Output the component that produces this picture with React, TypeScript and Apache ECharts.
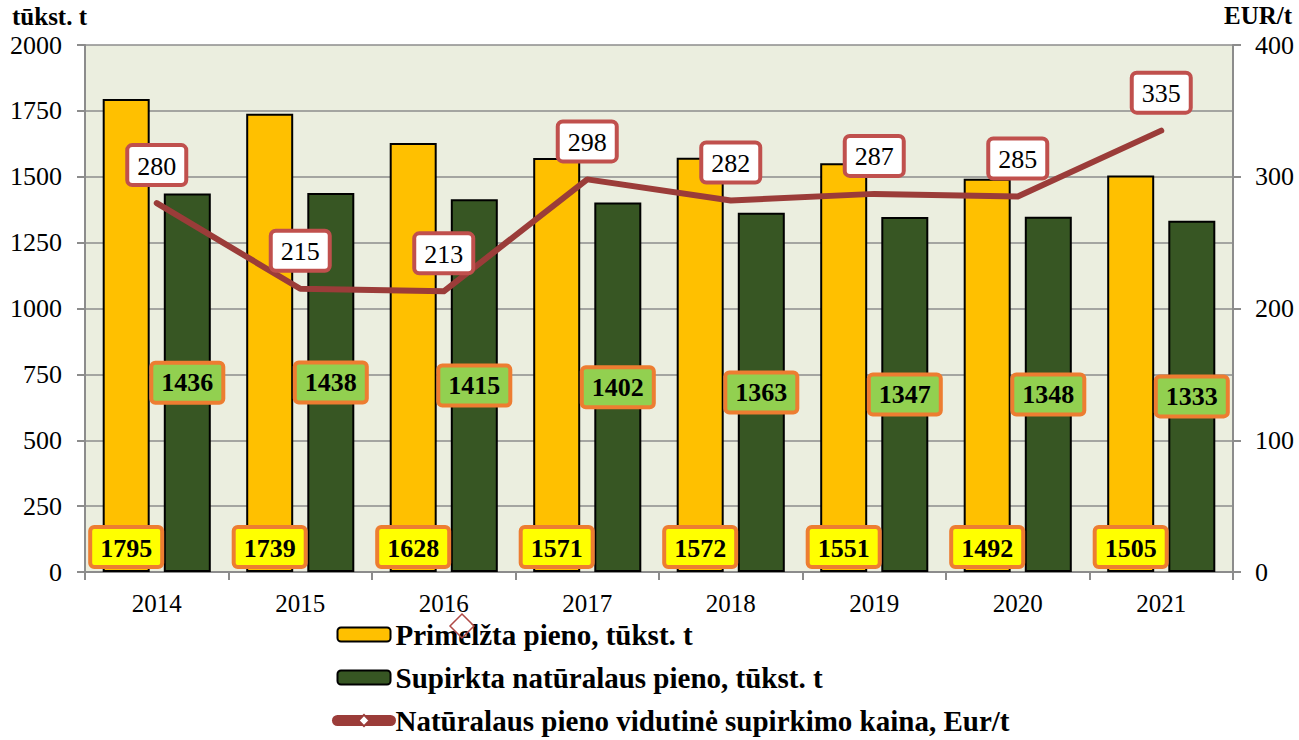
import React, { useEffect, useRef } from "react";
import * as echarts from "echarts";

const years = ["2014", "2015", "2016", "2017", "2018", "2019", "2020", "2021"];
const primelzta = [1795, 1739, 1628, 1571, 1572, 1551, 1492, 1505];
const supirkta = [1436, 1438, 1415, 1402, 1363, 1347, 1348, 1333];
const kaina = [280, 215, 213, 298, 282, 287, 285, 335];

const seriesNames = [
  "Primelžta pieno, tūkst. t",
  "Supirkta natūralaus pieno, tūkst. t",
  "Natūralaus pieno vidutinė supirkimo kaina, Eur/t",
];

const FONT = "'Liberation Serif', 'Times New Roman', serif";
const LINE_COLOR = "#9B3C39";

export default function App() {
  const ref = useRef<HTMLDivElement>(null);
  useEffect(() => {
    if (!ref.current) return;
    const chart = echarts.init(ref.current, null, { renderer: "svg" });
    const gridColor = "#8c8c8c";
    chart.setOption({
      animation: false,
      textStyle: { fontFamily: FONT, color: "#000" },
      grid: {
        left: 85,
        right: 66,
        top: 45,
        bottom: 168,
        show: true,
        backgroundColor: "#EBEEDF",
        borderWidth: 0,
      },
      legend: {
        orient: "vertical",
        left: 332,
        top: 620,
        height: 120,
        padding: 0,
        itemGap: 14,
        itemWidth: 53,
        itemHeight: 14,
        data: [
          { name: seriesNames[0] },
          { name: seriesNames[1] },
          {
            name: seriesNames[2],
            lineStyle: { color: LINE_COLOR, width: 11 },
            itemStyle: { color: "#fff", borderColor: LINE_COLOR, borderWidth: 2 },
          },
        ],
        textStyle: {
          fontFamily: FONT,
          fontSize: 29,
          fontWeight: "bold",
          color: "#000",
          lineHeight: 29,
        },
      },
      graphic: [
        {
          type: "text",
          left: 12,
          top: 4,
          style: { text: "tūkst. t", font: `bold 25px ${FONT}`, fill: "#000" },
        },
        {
          type: "text",
          left: 1224,
          top: 3,
          style: { text: "EUR/t", font: `bold 25px ${FONT}`, fill: "#000" },
        },
        {
          type: "polygon",
          shape: { points: [[462, 614], [474, 626], [462, 638], [450, 626]] },
          style: { fill: "rgba(255,255,255,0)", stroke: "#B04A46", lineWidth: 1.5 },
          z: 100,
        },
      ],
      xAxis: {
        type: "category",
        data: years,
        boundaryGap: true,
        axisLine: { lineStyle: { color: gridColor, width: 2 } },
        axisTick: { show: true, length: 8, lineStyle: { color: gridColor, width: 2 } },
        axisLabel: { fontFamily: FONT, fontSize: 25, color: "#000", margin: 19 },
      },
      yAxis: [
        {
          type: "value",
          min: 0,
          max: 2000,
          interval: 250,
          axisLine: { show: true, lineStyle: { color: gridColor, width: 2 } },
          axisTick: { show: true, length: 8, lineStyle: { color: gridColor, width: 2 } },
          splitLine: { show: true, lineStyle: { color: gridColor, width: 1.5 } },
          axisLabel: {
            fontFamily: FONT,
            fontSize: 26,
            color: "#000",
            margin: 23,
            formatter: (v: number) => String(v),
          },
        },
        {
          type: "value",
          min: 0,
          max: 400,
          interval: 100,
          position: "right",
          axisLine: { show: true, lineStyle: { color: gridColor, width: 2 } },
          axisTick: { show: true, length: 8, lineStyle: { color: gridColor, width: 2 } },
          splitLine: { show: false },
          axisLabel: {
            fontFamily: FONT,
            fontSize: 26,
            color: "#000",
            margin: 22,
            formatter: (v: number) => String(v),
          },
        },
      ],
      series: [
        {
          name: seriesNames[0],
          type: "bar",
          data: primelzta,
          barWidth: 47,
          barGap: "30%",
          itemStyle: { color: "#FFC000", borderColor: "#000", borderWidth: 2 },
          label: {
            show: true,
            position: "insideBottom",
            distance: 7,
            fontFamily: FONT,
            fontSize: 26,
            fontWeight: "bold",
            color: "#000",
            backgroundColor: "#FFFF00",
            borderColor: "#ED7D31",
            borderWidth: 4,
            borderRadius: 2,
            padding: [5, 8, 3, 8],
            lineHeight: 28,
          },
        },
        {
          name: seriesNames[1],
          type: "bar",
          data: supirkta,
          barWidth: 47,
          itemStyle: { color: "#375623", borderColor: "#000", borderWidth: 2 },
          label: {
            show: true,
            position: "inside",
            fontFamily: FONT,
            fontSize: 26,
            fontWeight: "bold",
            color: "#000",
            backgroundColor: "#92D050",
            borderColor: "#ED7D31",
            borderWidth: 4,
            borderRadius: 2,
            padding: [5, 8, 3, 8],
            lineHeight: 28,
          },
        },
        {
          name: seriesNames[2],
          type: "line",
          yAxisIndex: 1,
          data: kaina.map((v) => ({ value: v, symbolSize: 0 })),
          symbol: "diamond",
          symbolSize: 16,
          showSymbol: true,
          z: 5,
          lineStyle: { color: LINE_COLOR, width: 6, cap: "round", join: "round" },
          itemStyle: { color: "#fff", borderColor: LINE_COLOR, borderWidth: 2 },
          label: {
            show: true,
            position: "top",
            distance: 20,
            fontFamily: FONT,
            fontSize: 26,
            color: "#000",
            backgroundColor: "#fff",
            borderColor: "#C0504D",
            borderWidth: 4,
            borderRadius: 3,
            padding: [5, 8, 3, 8],
            lineHeight: 28,
          },
          labelLayout: { hideOverlap: false },
        },
      ],
    });
    return () => chart.dispose();
  }, []);
  return (
    <div
      ref={ref}
      style={{ position: "absolute", left: 0, top: 0, width: 1299, height: 740 }}
    />
  );
}
